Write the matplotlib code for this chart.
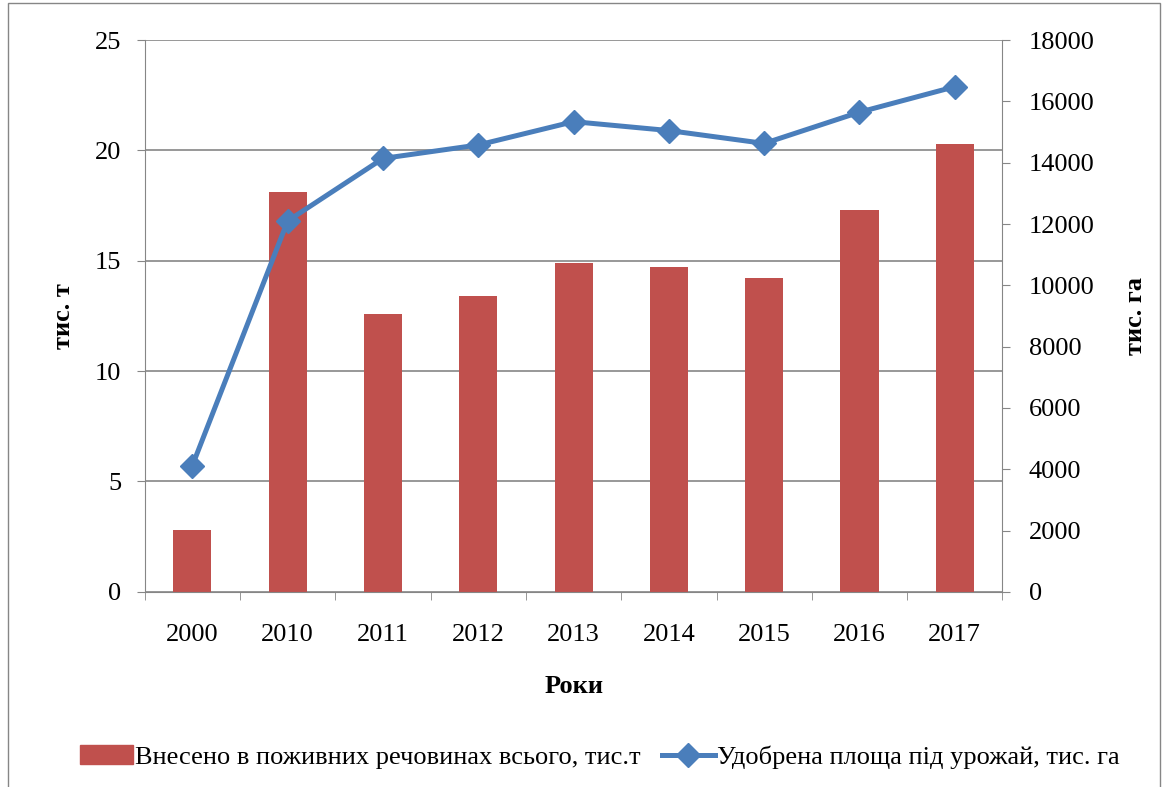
import matplotlib.pyplot as plt
from matplotlib.patches import Rectangle
from matplotlib.lines import Line2D
from matplotlib.patches import Patch

years = ['2000', '2010', '2011', '2012', '2013', '2014', '2015', '2016', '2017']
applied = [2.8, 18.1, 12.6, 13.4, 14.9, 14.7, 14.2, 17.3, 20.3]  # тис. т
area = [4120, 12100, 14140, 14580, 15340, 15050, 14630, 15650, 16480]  # тис. га

bar_label = 'Внесено в поживних речовинах всього, тис.т'
line_label = 'Удобрена площа під урожай, тис. га'

plt.rcParams['font.family'] = ['Liberation Serif', 'DejaVu Serif']

bar_color = '#C0504D'
line_color = '#4A7EBB'
grid_color = '#868686'

fig = plt.figure(figsize=(11.67, 7.87), dpi=100)
ax = fig.add_axes([0.124, 0.248, 0.735, 0.701])
ax2 = ax.twinx()

x = list(range(len(years)))
ax.bar(x, applied, width=0.4, color=bar_color, zorder=2)
ax2.plot(x, area, color=line_color, lw=3.6, marker='D', markersize=12, zorder=3)

ax.set_xlim(-0.5, len(years) - 0.5)
ax.set_ylim(0, 25)
ax.set_yticks(range(0, 26, 5))
ax2.set_ylim(0, 18000)
ax2.set_yticks(range(0, 18001, 2000))

ax.set_xticks(x)
ax.set_xticklabels(years)
ax.set_xticks([i - 0.5 for i in range(len(years) + 1)], minor=True)
ax.tick_params(axis='x', which='major', length=0, pad=23, labelsize=19)
ax.tick_params(axis='x', which='minor', length=6, color=grid_color, direction='out')
ax.tick_params(axis='y', length=6, color=grid_color, labelsize=19, pad=11)
ax2.tick_params(axis='y', length=6, color=grid_color, labelsize=19, pad=13)

ax.yaxis.grid(True, color=grid_color, lw=1.2)
ax.set_axisbelow(True)

for a in (ax, ax2):
    for s in ('top', 'right', 'left'):
        a.spines[s].set_visible(False)
ax.spines['left'].set_visible(True)
ax.spines['left'].set_color(grid_color)
ax.spines['bottom'].set_color(grid_color)
ax2.spines['right'].set_visible(True)
ax2.spines['right'].set_color(grid_color)
ax2.spines['bottom'].set_visible(False)

ax.set_ylabel('тис. т', fontsize=19, fontweight='bold', labelpad=14)
ax2.set_ylabel('тис. га', fontsize=19, fontweight='bold', labelpad=21)
ax.set_xlabel('Роки', fontsize=19, fontweight='bold', labelpad=21)

handles = [Patch(color=bar_color),
           Line2D([], [], color=line_color, lw=3.6, marker='D', markersize=12)]
fig.legend(handles, [bar_label, line_label], loc='center', bbox_to_anchor=(0.514, 0.038),
           ncol=2, frameon=False, fontsize=19, handlelength=2.0, handletextpad=0.1,
           columnspacing=0.8)

fig.patches.append(Rectangle((8 / 1167, -0.1), 1152 / 1167, 1.1 - 3 / 787,
                             transform=fig.transFigure, fill=False,
                             edgecolor=grid_color, lw=1))

fig.savefig('out.png', dpi=100)
